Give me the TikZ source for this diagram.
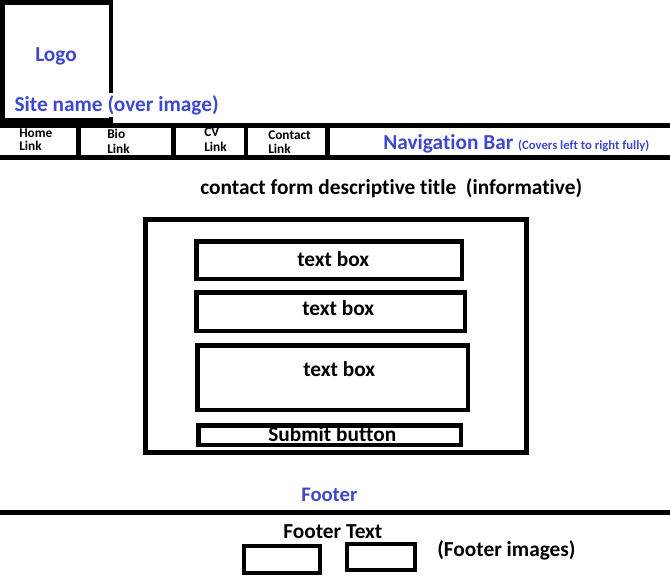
\documentclass[tikz,border=0pt]{standalone}
\usepackage{fontspec}
\setmainfont{Carlito}[Ligatures=NoCommon]
\definecolor{navblue}{HTML}{3F48CC}
\begin{document}
\begin{tikzpicture}[x=0.75pt,y=-0.75pt,
  heavy/.style={line width=3.75pt},
  medium/.style={line width=3.375pt},
  light/.style={line width=3pt},
  lbl/.style={anchor=base west, inner sep=0pt, font=\bfseries\fontsize{16}{19}\selectfont},
  bluelbl/.style={lbl, text=navblue},
  navlbl/.style={anchor=base west, inner sep=0pt, font=\bfseries\fontsize{10}{12}\selectfont}]
\useasboundingbox[fill=white] (0,0) rectangle (670,583);

% logo box
\draw[medium] (2.25,2.25) rectangle (111,120.5);
\node[bluelbl] (logo) at (35,61) {Logo};
\node[bluelbl, fill=white, inner xsep=1pt, inner ysep=1.5pt] (sitename) at (13,111) {Site name (over image)};

% navigation links text
\node[navlbl] (homeA) at (19,137) {Home};
\node[navlbl] (homeB) at (19,150) {Link};
\node[navlbl] (bioA) at (107,138) {Bio};
\node[navlbl] (bioB) at (107,153) {Link};
\node[navlbl] (cvA) at (204,136) {CV};
\node[navlbl] (cvB) at (204,151) {Link};
\node[navlbl] (contactA) at (268,139) {Contact};
\node[navlbl] (contactB) at (268,153) {Link};
\node[bluelbl] (navbar) at (383,149) {Navigation Bar {\fontsize{9.5}{11}\selectfont(Covers left to right fully)}};

% navigation bar lines
\draw[heavy] (0,125.5) -- (670,125.5);
\draw[heavy] (0,157.5) -- (670,157.5);
\foreach \xx in {78.5,173.5,246,327.5}
  \draw[medium] (\xx,125.5) -- (\xx,157.5);

% title
\node[lbl] (title) at (200,194) {contact form descriptive title\ \ (informative)};

% form
\draw[heavy] (145.5,219.5) rectangle (526.5,452.5);
\draw[medium] (196.25,241.25) rectangle (461.75,278.75);
\draw[medium] (196.25,292.25) rectangle (464.75,330.75);
\draw[medium] (197.25,345.25) rectangle (467.75,409.75);
\draw[medium] (198.25,425.25) rectangle (460.75,444.75);
\node[lbl] (tb1) at (297,266) {text box};
\node[lbl] (tb2) at (302,315) {text box};
\node[lbl] (tb3) at (303,376) {text box};
\node[lbl] (submit) at (268,441) {Submit button};

% footer
\node[bluelbl, font=\bfseries\fontsize{15.5}{18}\selectfont] (footer) at (301,501) {Footer};
\draw[heavy] (0,512.5) -- (670,512.5);
\node[lbl] (footertext) at (283,538) {Footer Text};
\draw[light] (244,546) rectangle (320,573);
\draw[light] (347,544) rectangle (415,570);
\node[lbl] (footerimgs) at (437,556) {(Footer images)};
\end{tikzpicture}
\end{document}
